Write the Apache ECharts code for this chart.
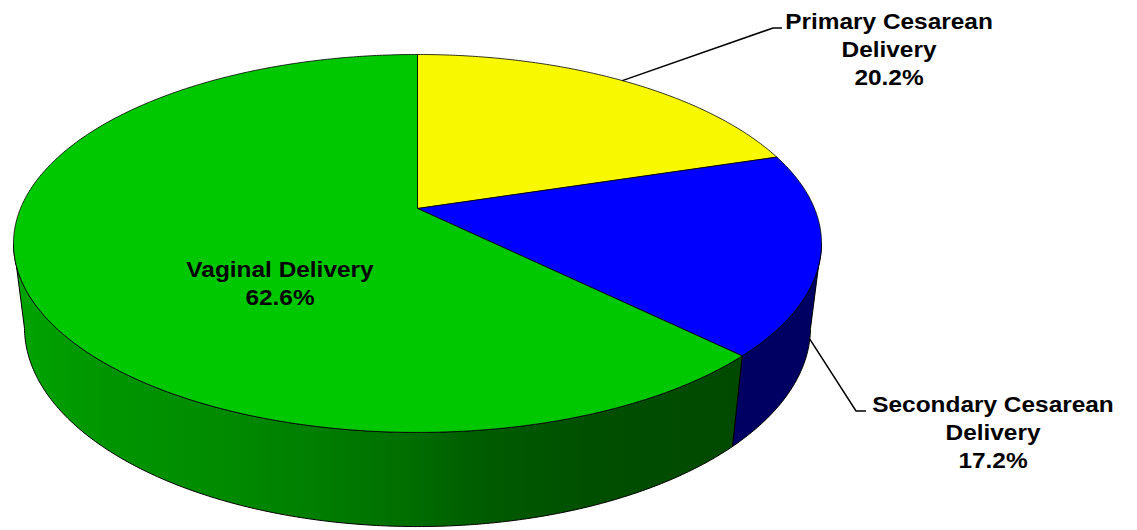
<!DOCTYPE html>
<html>
<head>
<meta charset="utf-8">
<script src="https://cdn.jsdelivr.net/npm/echarts@6/dist/echarts.min.js"></script>
<style>
html, body { margin: 0; padding: 0; background: #fff; }
#main { width: 1137px; height: 530px; }
</style>
</head>
<body>
<div id="main"></div>
<script>
// data
var categories = ['Primary Cesarean\nDelivery', 'Secondary Cesarean\nDelivery', 'Vaginal Delivery'];
var shares = [20.2, 17.2, 62.6];

// styles
var topColors = ['#f8f800', '#0000ff', '#00c800'];
var sideColors = [
    '#a0a000',
    '#000062',
    {
        type: 'linear', x: 13, y: 0, x2: 735, y2: 0, global: true,
        colorStops: [
            { offset: 0, color: '#00a400' },
            { offset: 0.12, color: '#009600' },
            { offset: 0.30, color: '#008a00' },
            { offset: 0.44, color: '#007c00' },
            { offset: 0.56, color: '#006c00' },
            { offset: 0.65, color: '#005c00' },
            { offset: 0.81, color: '#004e00' },
            { offset: 1, color: '#004a00' }
        ]
    }
];

// label layout (leader elbow / end, text centre); null = label inside the slice
var labelLayout = [
    { elbow: [773, 28], end: [782, 28], text: [889, 49] },
    { elbow: [856, 411], end: [866, 411], text: [993, 432] },
    { inside: true, text: [280, 283] }
];

// perspective of the tilted disc
var CX = 417.5, CY = 208.5;   // pie centre on screen
var A = 397, B = 182.5;       // radius across / radius in depth
var K = 0.185;                // perspective shrink toward the back
var D = 85.3, G = 0.027;      // thickness of the pie

function proj(theta, r, d) {
    var u = r * Math.sin(theta);
    var v = r * Math.cos(theta);
    var w = 1 + K * v + G * d;
    return [CX + A * u / w, CY + (-B * v + D * d) / w];
}

function arc(a0, a1, d) {
    var n = Math.max(2, Math.ceil((a1 - a0) / (Math.PI / 360)));
    var pts = [];
    for (var i = 0; i <= n; i++) {
        pts.push(proj(a0 + (a1 - a0) * i / n, 1, d));
    }
    return pts;
}

// visible side runs between the right and left silhouettes
var SIDE_FROM = Math.acos(-K);
var SIDE_TO = 2 * Math.PI - SIDE_FROM;

var total = 0;
var starts = [];
for (var i = 0; i < shares.length; i++) {
    starts.push(total);
    total += shares[i];
}

var font = {
    fontSize: 22,
    fontWeight: 'bold',
    fontFamily: '"Liberation Sans", Arial, sans-serif'
};

function renderItem(params, api) {
    var i = params.dataIndex;
    var val = api.value(1);
    var a0 = starts[i] / total * 2 * Math.PI;
    var a1 = (starts[i] + val) / total * 2 * Math.PI;
    var children = [];

    //侧面
    var s0 = Math.max(a0, SIDE_FROM);
    var s1 = Math.min(a1, SIDE_TO);
    if (s1 > s0) {
        var side = arc(s0, s1, 0).concat(arc(s0, s1, 1).reverse());
        children.push({
            type: 'polygon',
            shape: { points: side },
            style: { fill: sideColors[i], stroke: '#000', lineWidth: 1 }
        });
    }

    //顶面
    children.push({
        type: 'polygon',
        shape: { points: [proj(0, 0, 0)].concat(arc(a0, a1, 0)) },
        style: { fill: topColors[i], stroke: '#000', lineWidth: 0.8 }
    });

    //标签
    var lay = labelLayout[i];
    if (!lay.inside) {
        var mid = (a0 + a1) / 2;
        var front = Math.cos(mid) < -K;
        var anchor = proj(mid, 1, front ? 1 : 0);
        children.push({
            type: 'polyline',
            shape: { points: [anchor, lay.elbow, lay.end] },
            style: { fill: null, stroke: '#000', lineWidth: 1.5 }
        });
    }
    children.push({
        type: 'text',
        x: lay.text[0],
        y: lay.text[1],
        scaleX: 1.11,
        style: Object.assign({
            text: categories[i] + '\n' + val.toFixed(1) + '%',
            fill: '#000',
            align: 'center',
            verticalAlign: 'middle',
            lineHeight: 28
        }, font)
    });

    return { type: 'group', children: children };
}

var chart = echarts.init(document.getElementById('main'), null, { renderer: 'svg' });
chart.setOption({
    animation: false,
    backgroundColor: '#fff',
    series: [{
        type: 'custom',
        coordinateSystem: 'none',
        silent: true,
        renderItem: renderItem,
        data: shares.map(function (v, i) { return [i, v]; })
    }]
});
</script>
</body>
</html>
